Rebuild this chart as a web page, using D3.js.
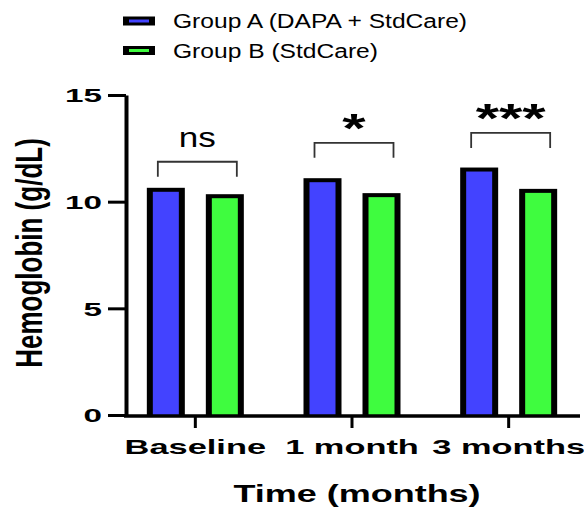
<!DOCTYPE html>
<html>
<head>
<meta charset="utf-8">
<script src="https://cdn.jsdelivr.net/npm/d3@7"></script>
<style>
  body { margin: 0; background: #fff; }
  text { font-family: "Liberation Sans", Arial, sans-serif; fill: #000; }
</style>
</head>
<body>
<div id="chart"></div>
<script>
// values
var categories = ["Baseline", "1 month", "3 months"];
var groupKeys = ["A", "B"];
var groupNames = ["Group A (DAPA + StdCare)", "Group B (StdCare)"];
var groupColors = ["#4343ff", "#3ffc3f"];
var groupA = [10.65, 11.1, 11.6];
var groupB = [10.35, 10.4, 10.6];
var yTicks = [0, 5, 10, 15];
var sigLabels = ["ns", "*", "***"];
var sigLevels = [11.87, 12.76, 13.22];

var width = 584, height = 508;
var plotLeft = 126, plotRight = 580, plotTop = 95, plotBottom = 415;

var svg = d3.select("#chart")
  .append("svg")
  .attr("width", width)
  .attr("height", height);

var x0 = d3.scaleBand()
  .domain(categories)
  .range([117, 587])
  .padding(0);

// offset of each group's bar from the category centre
var x1 = d3.scalePoint()
  .domain(groupKeys)
  .range([-29.5, 29.5]);

var y = d3.scaleLinear()
  .domain([0, 15])
  .range([plotBottom, plotTop]);

function cx(cat) { return x0(cat) + x0.bandwidth() / 2; }

// bars: black outer box, coloured inner box (thicker sides than top)
var barW = 38, sideW = 6, topW = 4;
var rows = [];
categories.forEach(function(c, i) {
  rows.push({cat: c, key: "A", value: groupA[i], color: groupColors[0]});
  rows.push({cat: c, key: "B", value: groupB[i], color: groupColors[1]});
});

var bars = svg.append("g").selectAll("g")
  .data(rows)
  .enter().append("g");

bars.append("rect")
  .attr("x", function(d) { return cx(d.cat) + x1(d.key) - barW / 2; })
  .attr("y", function(d) { return y(d.value); })
  .attr("width", barW)
  .attr("height", function(d) { return y(0) - y(d.value); })
  .attr("fill", "#000");

bars.append("rect")
  .attr("x", function(d) { return cx(d.cat) + x1(d.key) - barW / 2 + sideW; })
  .attr("y", function(d) { return y(d.value) + topW; })
  .attr("width", barW - 2 * sideW)
  .attr("height", function(d) { return y(0) - y(d.value) - topW; })
  .attr("fill", function(d) { return d.color; });

// y axis
var yAxis = svg.append("g")
  .attr("transform", "translate(" + plotLeft + ",0)")
  .call(d3.axisLeft(y).tickValues(yTicks).tickSize(18).tickSizeOuter(0).tickPadding(0));
yAxis.select(".domain").attr("stroke-width", 4);
yAxis.selectAll(".tick line").attr("stroke-width", 3);
yAxis.selectAll(".tick text")
  .attr("x", 0).attr("dy", "0.36em")
  .attr("transform", "translate(-24,0) scale(1.75,1)")
  .style("font-size", "19px")
  .style("font-weight", "bold")
  .style("font-family", "'Liberation Sans', Arial, sans-serif");

// x axis
var xAxis = svg.append("g")
  .attr("transform", "translate(0," + (plotBottom + 1) + ")")
  .call(d3.axisBottom(x0).tickSize(12).tickSizeOuter(0));
xAxis.select(".domain").remove();
xAxis.append("line")
  .attr("x1", plotLeft - 2).attr("x2", plotRight)
  .attr("stroke", "#000").attr("stroke-width", 3.3);
xAxis.selectAll(".tick line").attr("stroke-width", 3);
xAxis.selectAll(".tick text")
  .attr("y", 0).attr("dy", 0)
  .attr("transform", "translate(0,38) scale(1.72,1)")
  .style("font-size", "20px")
  .style("font-weight", "bold")
  .style("font-family", "'Liberation Sans', Arial, sans-serif");

// axis titles
svg.append("text")
  .attr("transform", "translate(357,502) scale(1.5,1)")
  .attr("text-anchor", "middle")
  .style("font-size", "24px")
  .style("font-weight", "bold")
  .text("Time (months)");

svg.append("text")
  .attr("transform", "translate(42,253) scale(1.45,1) rotate(-90)")
  .attr("text-anchor", "middle")
  .style("font-size", "26px")
  .style("font-weight", "bold")
  .text("Hemoglobin (g/dL)");

// significance brackets
var legH = 15;
categories.forEach(function(c, i) {
  var xa = cx(c) + x1("A") - 8, xb = cx(c) + x1("B") + 12;
  var yy = y(sigLevels[i]);
  svg.append("path")
    .attr("d", "M" + xa + "," + (yy + legH) + "V" + yy + "H" + xb + "V" + (yy + legH))
    .attr("fill", "none")
    .attr("stroke", "#333")
    .attr("stroke-width", 1.8);
  var isStar = sigLabels[i].indexOf("*") >= 0;
  svg.append("text")
    .attr("transform", "translate(" + ((xa + xb) / 2) + "," + (isStar ? yy - 1 : yy - 15) + ") scale(" + (isStar ? 1.5 : 1.3) + ",1)")
    .attr("text-anchor", "middle")
    .style("font-size", isStar ? "40px" : "27px")
    .style("font-weight", isStar ? "bold" : "normal")
    .text(sigLabels[i]);
});

// legend
var legend = svg.append("g").selectAll("g")
  .data(groupNames)
  .enter().append("g")
  .attr("transform", function(d, i) { return "translate(123," + (21 + i * 29.5) + ")"; });

legend.append("rect")
  .attr("x", 0).attr("y", -4.5)
  .attr("width", 32).attr("height", 9)
  .attr("fill", "#000");
legend.append("rect")
  .attr("x", 6).attr("y", -1.5)
  .attr("width", 20).attr("height", 3)
  .attr("fill", function(d, i) { return groupColors[i]; });
legend.append("text")
  .attr("transform", "translate(50,7) scale(1.23,1)")
  .style("font-size", "20px")
  .text(function(d) { return d; });
</script>
</body>
</html>
